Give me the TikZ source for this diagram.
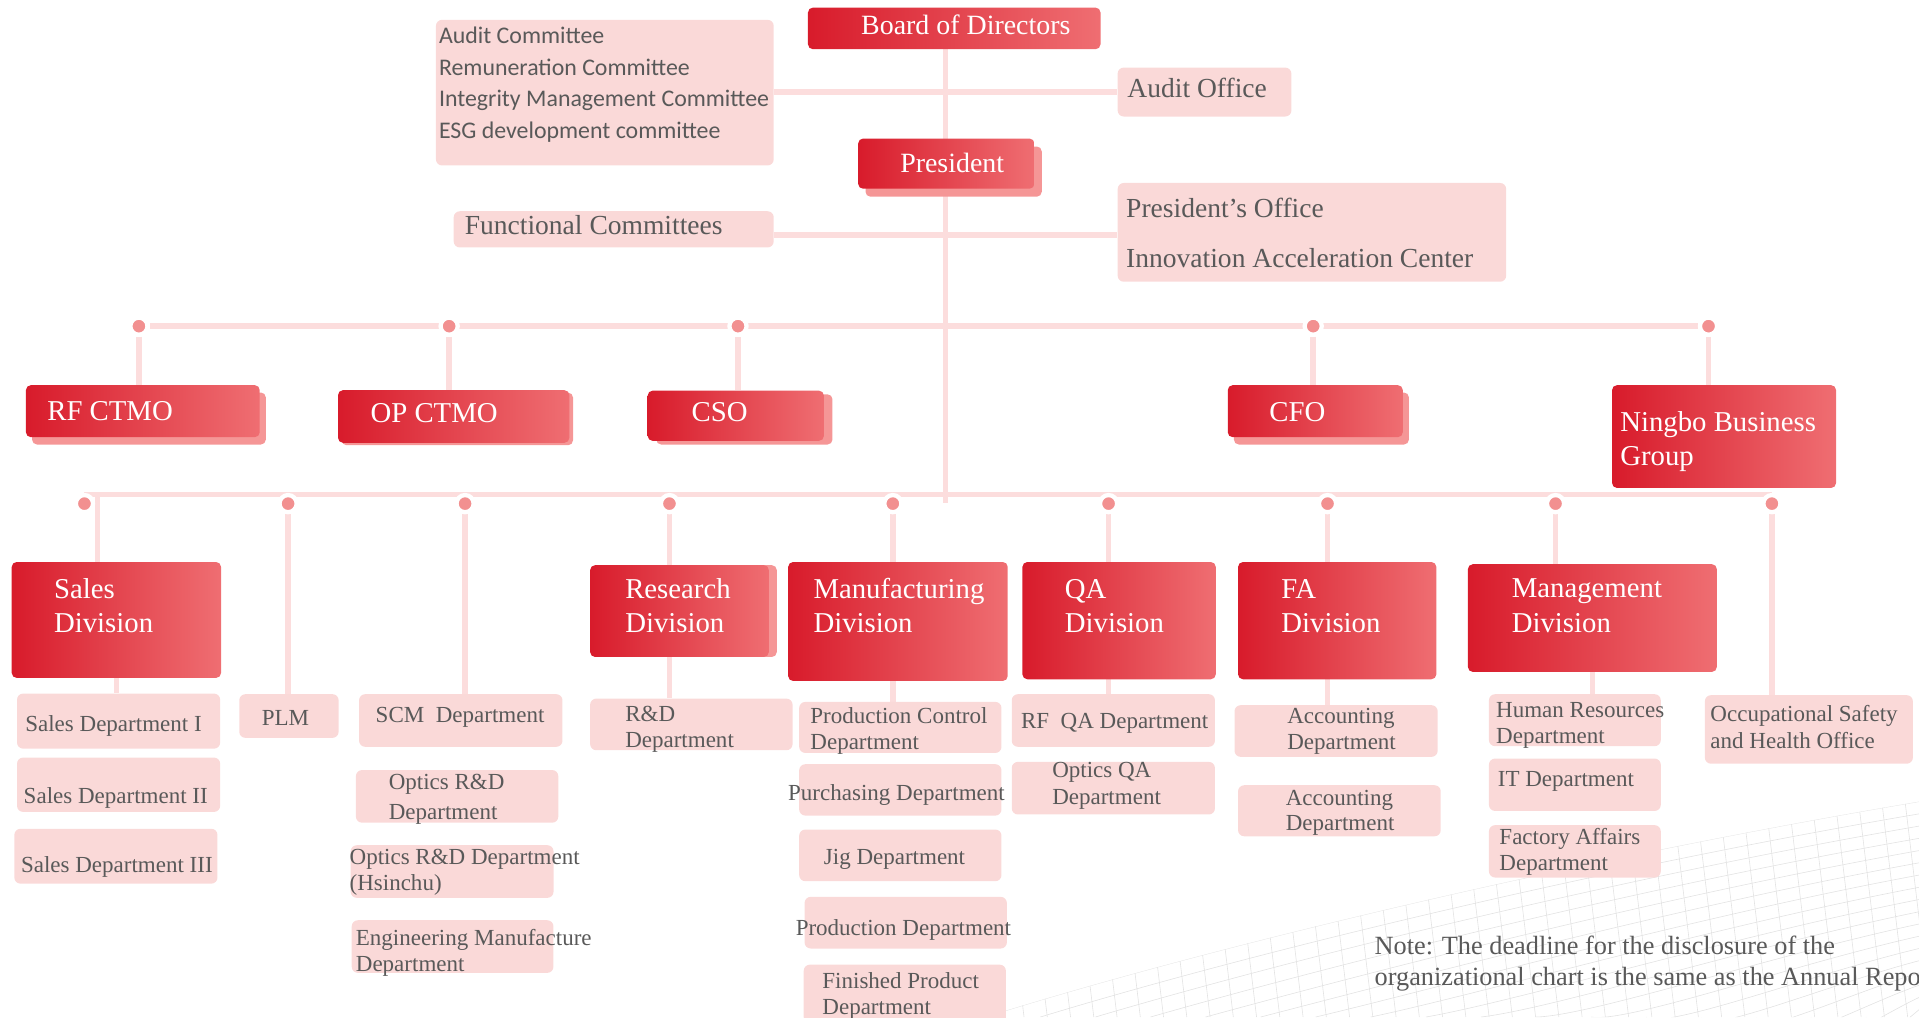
\documentclass[tikz,border=0pt]{standalone}
\usepackage{fontspec}
\setmainfont{Liberation Serif}
\newfontfamily\cmtfont{Carlito}
\usetikzlibrary{shadows}

\definecolor{reddark}{HTML}{D81B2B}
\definecolor{redlight}{HTML}{EF6E72}
\definecolor{redshade}{HTML}{F59696}
\definecolor{pinkfill}{HTML}{FAD9D8}
\definecolor{pinkline}{HTML}{FCDDDD}
\definecolor{pinkdot}{HTML}{F29090}
\definecolor{txtgray}{HTML}{595959}

\pgfdeclarelayer{bg}
\pgfsetlayers{bg,main}

\tikzset{
    redbox/.style={rectangle, rounded corners=4pt, left color=reddark,
      right color=redlight, inner sep=0pt, anchor=north west},
    pinkbox/.style={rectangle, rounded corners=5pt, fill=pinkfill,
      inner sep=0pt, anchor=north west},
    lifted/.style 2 args={drop shadow={shadow xshift=#1, shadow yshift=#2,
      fill=redshade, opacity=1}},
    whitetxt/.style={text=white, font=\fontsize{23.5}{28}\selectfont,
      align=left, inner sep=0pt, anchor=west},
    depttxt/.style={text=txtgray, font=\fontsize{18.8}{21}\selectfont,
      align=left, inner sep=0pt, anchor=west},
    offtxt/.style={depttxt, font=\fontsize{22.5}{40.8}\selectfont},
    link/.style={draw=pinkline, line width=4.5pt},
    dot/.style={circle, fill=pinkdot, draw=white, line width=3.5pt,
      minimum size=14pt, inner sep=0pt},
    mesh/.style={draw=gray!22, line width=0.5pt}
}

\begin{document}
\begin{tikzpicture}[x=1pt, y=-1pt]
    \useasboundingbox (0,0) rectangle (1568,831);

    \coordinate (trunk) at (772.5,411);
    \coordinate (hA) at (772.5,75);
    \coordinate (hB) at (772.5,192);
    \coordinate (lowbus) at (772.5,404);
    \coordinate (salesdrop) at (79.5,404);

    \node[redbox, minimum width=239pt, minimum height=34pt] (board) at (660,6) {};
    \node[redbox, lifted={6pt}{-6.5pt}, minimum width=144pt, minimum height=41pt] (pres) at (701,113) {};
    \node[pinkbox, minimum width=276pt, minimum height=119pt] (cmte) at (356,16) {};
    \node[pinkbox, minimum width=142pt, minimum height=40pt] (audit) at (913,55) {};
    \node[pinkbox, minimum width=261.5pt, minimum height=29.6pt] (func) at (370.5,172.4) {};
    \node[pinkbox, minimum width=317.5pt, minimum height=80.7pt] (presoff) at (913,149.3) {};

    \node[redbox, lifted={5pt}{-6pt}, minimum width=191pt, minimum height=42.5pt] (rfctmo) at (21,314.5) {};
    \node[redbox, lifted={3pt}{-2pt}, minimum width=189pt, minimum height=43pt] (opctmo) at (276,318.6) {};
    \node[redbox, lifted={7pt}{-3pt}, minimum width=144pt, minimum height=41pt] (cso) at (529,319) {};
    \node[redbox, lifted={5pt}{-6pt}, minimum width=143pt, minimum height=42.5pt] (cfo) at (1003,314.5) {};
    \node[redbox, minimum width=183pt, minimum height=84pt] (ningbo) at (1317,314.5) {};

    \node[redbox, minimum width=171pt, minimum height=94.7pt] (salesdiv) at (9.4,459) {};
    \node[redbox, lifted={6.5pt}{0pt}, minimum width=146pt, minimum height=75pt] (resdiv) at (482,461.6) {};
    \node[redbox, minimum width=179.4pt, minimum height=97.2pt] (manudiv) at (643.8,459) {};
    \node[redbox, minimum width=158pt, minimum height=95.8pt] (qadiv) at (835.2,459) {};
    \node[redbox, minimum width=162pt, minimum height=95.8pt] (fadiv) at (1011.4,459) {};
    \node[redbox, minimum width=203.4pt, minimum height=88pt] (mgmtdiv) at (1199.2,460.8) {};

    \node[pinkbox, minimum width=166pt, minimum height=45pt] (sd1) at (13.7,566.5) {};
    \node[pinkbox, minimum width=166pt, minimum height=44.4pt] (sd2) at (13.7,618.8) {};
    \node[pinkbox, minimum width=166pt, minimum height=44.8pt] (sd3) at (11.5,677) {};
    \node[pinkbox, minimum width=81.2pt, minimum height=35.7pt] (plm) at (195.3,567) {};
    \node[pinkbox, minimum width=166.2pt, minimum height=43pt] (scm) at (293.2,567) {};
    \node[pinkbox, minimum width=165.4pt, minimum height=43pt] (optrd) at (290.6,629) {};
    \node[pinkbox, minimum width=165.8pt, minimum height=43pt] (hsin) at (286.3,690.4) {};
    \node[pinkbox, minimum width=164.8pt, minimum height=43pt] (engm) at (287.2,751.7) {};
    \node[pinkbox, minimum width=165.4pt, minimum height=42.2pt] (rnd) at (482,570.6) {};
    \node[pinkbox, minimum width=165.3pt, minimum height=41.7pt] (pctl) at (652.8,573.3) {};
    \node[pinkbox, minimum width=165.3pt, minimum height=42pt] (purch) at (652.8,624.2) {};
    \node[pinkbox, minimum width=165.3pt, minimum height=42.2pt] (jig) at (652.8,677.6) {};
    \node[pinkbox, minimum width=165.3pt, minimum height=42.2pt] (prod) at (657.2,732.6) {};
    \node[pinkbox, minimum width=165.2pt, minimum height=48pt] (fin) at (656.5,788) {};
    \node[pinkbox, minimum width=166pt, minimum height=43pt] (rfqa) at (826.5,567) {};
    \node[pinkbox, minimum width=166pt, minimum height=43pt] (opqa) at (826.5,622.3) {};
    \node[pinkbox, minimum width=166pt, minimum height=42.2pt] (acc1) at (1008.5,576) {};
    \node[pinkbox, minimum width=165.6pt, minimum height=41.7pt] (acc2) at (1011.4,641.4) {};
    \node[pinkbox, minimum width=140.4pt, minimum height=42.5pt] (hr) at (1216.4,567) {};
    \node[pinkbox, minimum width=140.4pt, minimum height=42.8pt] (it) at (1216.4,619.6) {};
    \node[pinkbox, minimum width=140.4pt, minimum height=42.8pt] (fac) at (1216.4,674) {};
    \node[pinkbox, minimum width=170pt, minimum height=56pt] (osh) at (1392.8,567.8) {};

    \foreach \n/\x in {1/113.5, 2/367, 3/603, 4/1073, 5/1396}
      \node[dot] (dT\n) at (\x,266.5) {};
    \foreach \n/\x in {1/69, 2/235.4, 3/380, 4/547, 5/729.5, 6/905.8, 7/1084.7, 8/1271, 9/1447.8}
      \node[dot] (dB\n) at (\x,411.5) {};

    \begin{pgfonlayer}{bg}
      \begin{scope}
        \clip (805,831) .. controls (1000,770) and (1300,700) .. (1568,655) -- (1568,831) -- cycle;
        \foreach \k in {0,...,18}
          \draw[mesh] (805+45*\k,831) .. controls (1000+30*\k,770+6*\k) and (1300+15*\k,700+8*\k) .. (1568,655+10*\k);
        \foreach \k in {0,...,42}
          \draw[mesh] (790+19*\k,600) -- (820+19*\k,850);
      \end{scope}

      \draw[link] (trunk |- board.south) -- (trunk);
      \draw[link] (hA -| cmte.east) -- (hA -| audit.west);
      \draw[link] (hB -| func.east) -- (hB -| presoff.west);
      \draw[link] (dT1) -- (dT5);
      \draw[link] (dB1 |- lowbus) -- (dB9 |- lowbus);
      \foreach \n/\b in {1/rfctmo, 2/opctmo, 3/cso, 4/cfo, 5/ningbo}
        \draw[link] (dT\n) -- (dT\n |- \b.north);
      \draw[link] (salesdrop) -- (salesdrop |- salesdiv.north);
      \foreach \n/\b in {2/plm, 3/scm, 4/resdiv, 5/manudiv, 6/qadiv, 7/fadiv, 8/mgmtdiv, 9/osh}
        \draw[link] (dB\n) -- (dB\n |- \b.north);
      \draw[link] (salesdiv.south) -- (salesdiv.south |- sd1.north);
      \foreach \n/\a/\b in {4/resdiv/rnd, 5/manudiv/pctl, 6/qadiv/rfqa, 7/fadiv/acc1}
        \draw[link] (dB\n |- \a.south) -- (dB\n |- \b.north);
      \draw[link] (mgmtdiv.south) -- (mgmtdiv.south |- hr.north);
    \end{pgfonlayer}

    \node[whitetxt, font=\fontsize{22.8}{28}\selectfont] (boardt) at (703.5,20.4) {Board of Directors};
    \node[whitetxt, font=\fontsize{22.8}{28}\selectfont] (prest) at (735.4,133.4) {President};
    \node[depttxt, font=\cmtfont\fontsize{19.5}{25.7}\selectfont] (cmtet) at (358.5,69.2)
      {Audit Committee\\Remuneration Committee\\Integrity Management Committee\\ESG development committee};
    \node[offtxt] (auditt) at (921,72) {Audit Office};
    \node[offtxt] (funct) at (379.6,183.8) {Functional Committees};
    \node[offtxt] (presofft) at (920,190.1) {President’s Office\\Innovation Acceleration Center};

    \node[whitetxt] (rfctmot) at (38.5,336) {RF CTMO};
    \node[whitetxt] (opctmot) at (302.6,337.2) {OP CTMO};
    \node[whitetxt] (csot) at (565,337) {CSO};
    \node[whitetxt] (cfot) at (1037,337) {CFO};
    \node[whitetxt] (ningbot) at (1323.7,361) {Ningbo Business\\Group};

    \node[whitetxt] (salesdivt) at (44,495) {Sales\\Division};
    \node[whitetxt] (resdivt) at (510.7,495) {Research\\Division};
    \node[whitetxt] (manudivt) at (664.5,495) {Manufacturing\\Division};
    \node[whitetxt] (qadivt) at (869.9,495) {QA\\Division};
    \node[whitetxt] (fadivt) at (1046.8,495) {FA\\Division};
    \node[whitetxt] (mgmtdivt) at (1235.1,495) {Management\\Division};

    \node[depttxt] (sd1t) at (20.5,593) {Sales Department I};
    \node[depttxt] (sd2t) at (19.2,651.6) {Sales Department II};
    \node[depttxt] (sd3t) at (17,708) {Sales Department III};
    \node[depttxt] (plmt) at (213.7,587) {PLM};
    \node[depttxt] (scmt) at (306.8,586.2) {SCM~~Department};
    \node[depttxt] (optrdt) at (317.5,653.2) {Optics R\&D\\[3pt]Department};
    \node[depttxt] (hsint) at (285.5,712.5) {Optics R\&D Department\\(Hsinchu)};
    \node[depttxt] (engmt) at (290.6,778.5) {Engineering Manufacture\\Department};
    \node[depttxt] (rndt) at (510.7,595.7) {R\&D\\Department};
    \node[depttxt] (pctlt) at (662,597) {Production Control\\Department};
    \node[depttxt] (purcht) at (643.8,649.4) {Purchasing Department};
    \node[depttxt] (jigt) at (673,702.5) {Jig Department};
    \node[depttxt] (prodt) at (650,760) {Production Department};
    \node[depttxt] (fint) at (671.8,813.6) {Finished Product\\Department};
    \node[depttxt] (rfqat) at (834.1,591) {RF~~QA Department};
    \node[depttxt] (opqat) at (859.6,642) {Optics QA\\[1pt]Department};
    \node[depttxt] (acc1t) at (1051.6,597.4) {Accounting\\Department};
    \node[depttxt] (acc2t) at (1050.4,664.2) {Accounting\\Department};
    \node[depttxt] (hrt) at (1222.3,593) {Human Resources\\Department};
    \node[depttxt] (itt) at (1223.7,638.8) {IT Department};
    \node[depttxt] (fact) at (1225,695.8) {Factory Affairs\\Department};
    \node[depttxt] (osht) at (1397.4,594) {Occupational Safety\\[1.6pt]and Health Office};

    \node[depttxt, font=\fontsize{21.5}{25}\selectfont] (note) at (1123,787.5)
      {Note: The deadline for the disclosure of the\\organizational chart is the same as the Annual Report.};
\end{tikzpicture}
\end{document}
